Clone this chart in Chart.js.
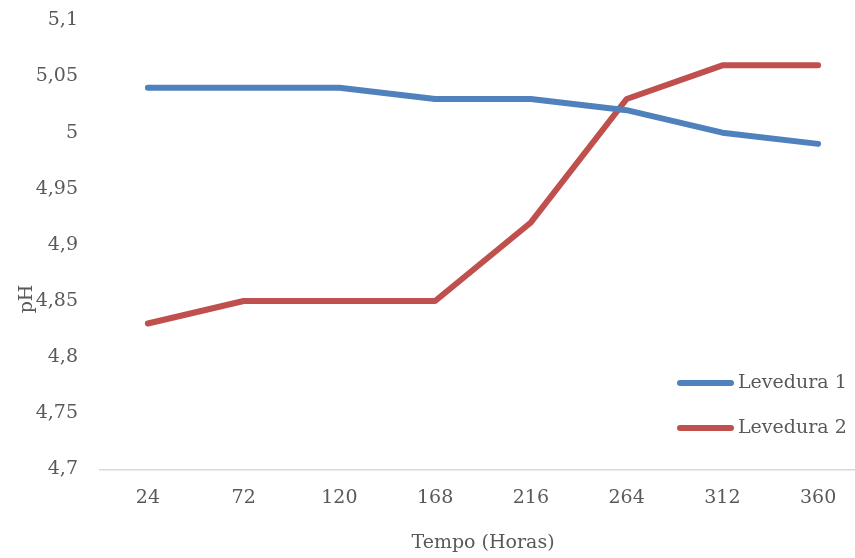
<!DOCTYPE html>
<html>
<head>
<meta charset="utf-8">
<script src="https://cdn.jsdelivr.net/npm/chart.js@4.4.1/dist/chart.umd.min.js"></script>
<style>
  html, body { margin: 0; padding: 0; overflow: hidden; background: #fff; }
  #wrap { width: 880px; height: 573px; margin-top: -13px; }
</style>
</head>
<body>
<div id="wrap"><canvas id="phChart" width="880" height="573"></canvas></div>
<script>
// dados
const horas = ['24', '72', '120', '168', '216', '264', '312', '360'];
const levedura1 = [5.04, 5.04, 5.04, 5.03, 5.03, 5.02, 5.00, 4.99];
const levedura2 = [4.83, 4.85, 4.85, 4.85, 4.92, 5.03, 5.06, 5.06];
const nomesSeries = ['Levedura 1', 'Levedura 2'];
const tituloX = 'Tempo (Horas)';
const tituloY = 'pH';

const FONTE = '"DejaVu Serif", serif';
const COR_TEXTO = '#595959';
const DESLOC = 13; // o canvas sobe 13px para o topo do eixo ficar em y=18

// legenda e título do eixo Y desenhados à mão (posição igual ao Excel)
const extras = {
    id: 'extras',
    afterDraw(chart) {
        const ctx = chart.ctx;
        ctx.save();
        ctx.font = '19px ' + FONTE;
        ctx.fillStyle = COR_TEXTO;
        ctx.textBaseline = 'middle';
        chart.data.datasets.forEach((ds, i) => {
            const y = 383 + DESLOC + i * 45;
            ctx.strokeStyle = ds.borderColor;
            ctx.lineWidth = 6;
            ctx.lineCap = 'round';
            ctx.beginPath();
            ctx.moveTo(680, y);
            ctx.lineTo(731, y);
            ctx.stroke();
            ctx.textAlign = 'left';
            ctx.fillText(ds.label, 738, y);
        });
        ctx.translate(27, 299 + DESLOC);
        ctx.rotate(-Math.PI / 2);
        ctx.textAlign = 'center';
        ctx.fillText(tituloY, 0, 0);
        ctx.restore();
    }
};

const ctx = document.getElementById('phChart').getContext('2d');
const phChart = new Chart(ctx, {
    type: 'line',
    data: {
        labels: horas,
        datasets: [{
            label: nomesSeries[0],
            data: levedura1,
            borderColor: '#4f81bd',
            borderWidth: 6,
            pointRadius: 0,
            tension: 0,
            borderJoinStyle: 'round',
            borderCapStyle: 'round'
        }, {
            label: nomesSeries[1],
            data: levedura2,
            borderColor: '#c0504d',
            borderWidth: 6,
            pointRadius: 0,
            tension: 0,
            borderJoinStyle: 'round',
            borderCapStyle: 'round'
        }]
    },
    options: {
        responsive: false,
        animation: false,
        layout: { padding: { top: 8, right: 14, bottom: 6, left: 0 } },
        plugins: {
            legend: { display: false },
            tooltip: { enabled: false }
        },
        scales: {
            x: {
                offset: true,
                grid: { display: false, drawTicks: false },
                border: { color: '#d9d9d9', width: 1.5 },
                ticks: { color: COR_TEXTO, font: { family: FONTE, size: 19 }, padding: 17, maxRotation: 0 },
                title: {
                    display: true,
                    text: tituloX,
                    color: COR_TEXTO,
                    font: { family: FONTE, size: 19 },
                    padding: { top: 5, bottom: 0 }
                }
            },
            y: {
                min: 4.7,
                max: 5.1,
                grid: { display: false, drawTicks: false },
                border: { display: false },
                ticks: {
                    stepSize: 0.05,
                    color: COR_TEXTO,
                    font: { family: FONTE, size: 19 },
                    padding: 22,
                    callback: v => String(Number(v.toFixed(2))).replace('.', ',')
                },
                afterFit: scale => { scale.width = 100; }
            }
        }
    },
    plugins: [extras]
});
</script>
</body>
</html>
